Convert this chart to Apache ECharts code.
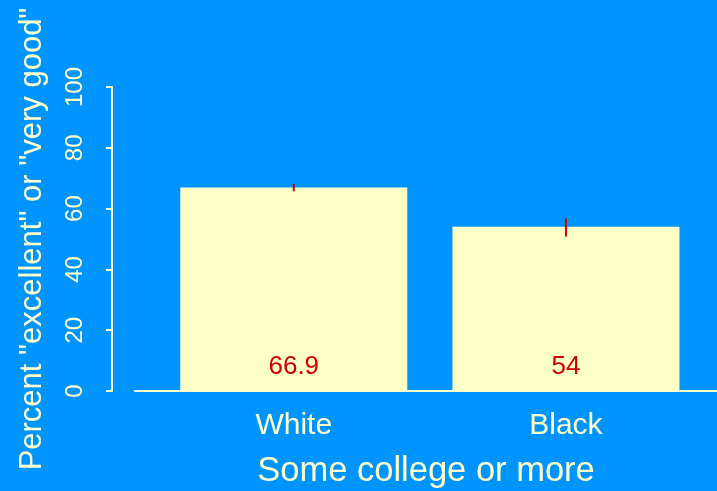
<!DOCTYPE html>
<html><head><meta charset="utf-8">
<script src="https://cdn.jsdelivr.net/npm/echarts@6/dist/echarts.min.js"></script>
<style>html,body{margin:0;padding:0;background:#0094ff;}#c{width:717px;height:491px;}</style>
</head><body><div id="c"></div>
<script>
const categories = ['White', 'Black'];
const values = [66.9, 54];
const valueLabels = ['66.9', '54'];
const errLow = [65.7, 50.8];
const errHigh = [68.1, 56.8];
const yTicks = [0, 20, 40, 60, 80, 100];
const xTitle = 'Some college or more';
const yTitle = 'Percent "excellent" or "very good"';

const pos = categories.map((c, i) => 0.7 + 1.2 * i);
const cream = '#ffffcc';
const font = '"Liberation Sans", Arial, sans-serif';

const chart = echarts.init(document.getElementById('c'));
chart.setOption({
  backgroundColor: '#0094ff',
  animation: false,
  grid: { left: 135, right: 0, top: 87, bottom: 100, containLabel: false, outerBoundsMode: 'none' },
  xAxis: {
    type: 'value', min: 0, max: 2.566,
    splitLine: { show: false },
    axisLine: { show: true, onZero: false, lineStyle: { color: cream, width: 2 } },
    axisTick: { show: false },
    axisLabel: {
      customValues: pos,
      formatter: v => { const i = pos.findIndex(p => Math.abs(p - v) < 1e-6); return i >= 0 ? categories[i] : ''; },
      color: cream, fontSize: 30, fontFamily: font, margin: 20
    },
    name: xTitle, nameLocation: 'middle', nameGap: 63,
    nameTextStyle: { color: cream, fontSize: 34.5, fontFamily: font }
  },
  yAxis: {
    type: 'value', min: yTicks[0], max: yTicks[yTicks.length - 1], interval: 20,
    offset: 23,
    splitLine: { show: false },
    axisLine: { show: true, onZero: false, lineStyle: { color: cream, width: 2 } },
    axisTick: { show: true, length: 6, lineStyle: { color: cream, width: 2 } },
    axisLabel: { rotate: 90, color: cream, fontSize: 24, fontFamily: font, margin: 25 },
    name: yTitle, nameLocation: 'middle', nameGap: 64,
    nameTextStyle: { color: cream, fontSize: 31, fontFamily: font }
  },
  series: [
    {
      type: 'bar',
      data: pos.map((p, i) => [p, values[i]]),
      barWidth: 227,
      itemStyle: { color: '#ffffc8' },
      label: {
        show: true, position: 'insideBottom', distance: 11,
        formatter: p => valueLabels[p.dataIndex],
        color: '#cc0000', fontSize: 26, fontFamily: font
      }
    },
    {
      type: 'custom',
      data: pos.map((p, i) => [p, errLow[i], errHigh[i]]),
      renderItem: (params, api) => {
        const a = api.coord([api.value(0), api.value(1)]);
        const b = api.coord([api.value(0), api.value(2)]);
        return { type: 'line', shape: { x1: a[0], y1: a[1], x2: b[0], y2: b[1] },
          style: { stroke: '#cc0000', lineWidth: 2 } };
      },
      z: 5
    }
  ]
});
</script></body></html>
